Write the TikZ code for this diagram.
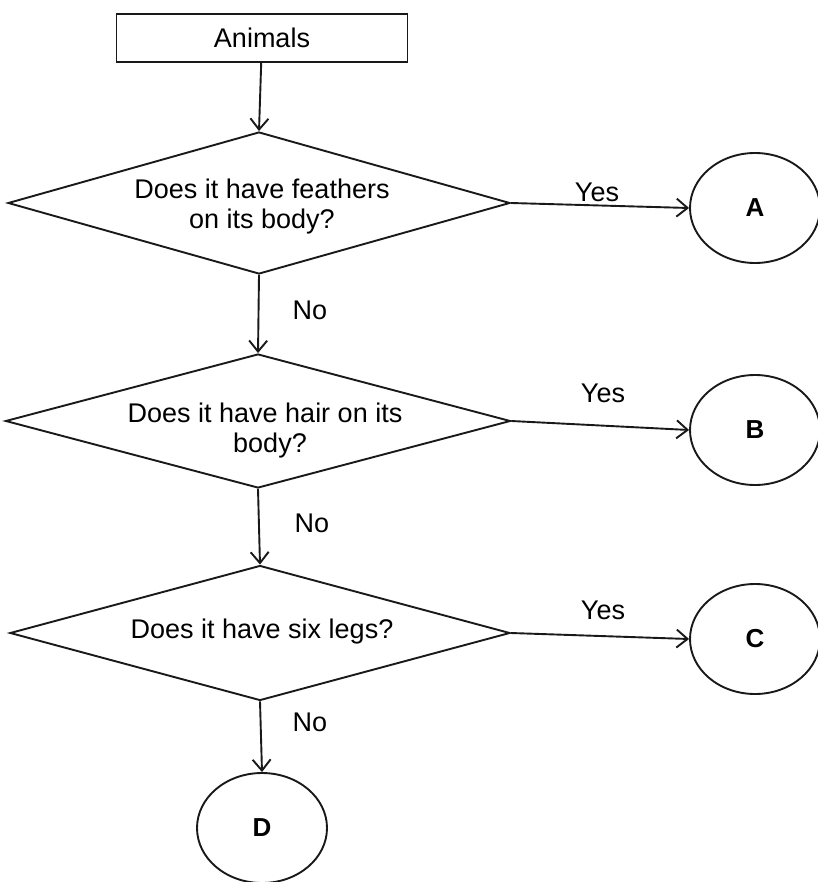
\documentclass[tikz,border=0pt]{standalone}
\usepackage{fontspec}
\setmainfont{Liberation Sans}
\usetikzlibrary{shapes.geometric,arrows.meta}
\begin{document}
\begin{tikzpicture}[x=1pt,y=-1pt,
  every node/.style={font=\fontsize{27}{30}\selectfont},
  ln/.style={line width=1.9pt,draw=black!90},
  box/.style={ln,rectangle,minimum width=291pt,minimum height=48pt,inner sep=0pt},
  dia/.style={ln,diamond,inner sep=0pt,align=center},
  term/.style={ln,ellipse,minimum width=130pt,minimum height=110pt,inner sep=0pt,font=\fontsize{26}{30}\selectfont\bfseries},
  arr/.style={ln,-{Straight Barb[length=11pt,width=18pt,line width=1.9pt]}},
  lbl/.style={inner sep=0pt}]
\useasboundingbox (0,0) rectangle (817,882);
\node[box] (an) at (262,38) {Animals};
\node[dia,minimum width=502pt,minimum height=142pt] (d1) at (259,203) {};
\node[align=center] (t1) at (262,207) {Does it have feathers\\on its body?};
\node[dia,minimum width=505pt,minimum height=134pt] (d2) at (258,421) {};
\node[align=center] (t2) at (265,431) {Does it have hair on its\\\hspace*{10pt}body?};
\node[dia,minimum width=500pt,minimum height=135pt] (d3) at (260,633) {};
\node (t3) at (262,632) {Does it have six legs?};
\node[term] (A) at (755,208) {A};
\node[term] (B) at (755,430) {B};
\node[term] (C) at (755,639) {C};
\node[term] (D) at (262,828) {D};
\draw[arr] (an) -- (d1.north);
\draw[arr] (d1.south) -- (d2.north);
\draw[arr] (d2.south) -- (d3.north);
\draw[arr] (d3.south) -- (D.north);
\draw[arr] (d1.east) -- (A.west);
\draw[arr] (d2.east) -- (B.west);
\draw[arr] (d3.east) -- (C.west);
\node[lbl] (y1) at (597,192) {Yes};
\node[lbl] (y2) at (603,393) {Yes};
\node[lbl] (y3) at (603,610) {Yes};
\node[lbl] (n1) at (310,310) {No};
\node[lbl] (n2) at (312,523) {No};
\node[lbl] (n3) at (310,722) {No};
\end{tikzpicture}
\end{document}
